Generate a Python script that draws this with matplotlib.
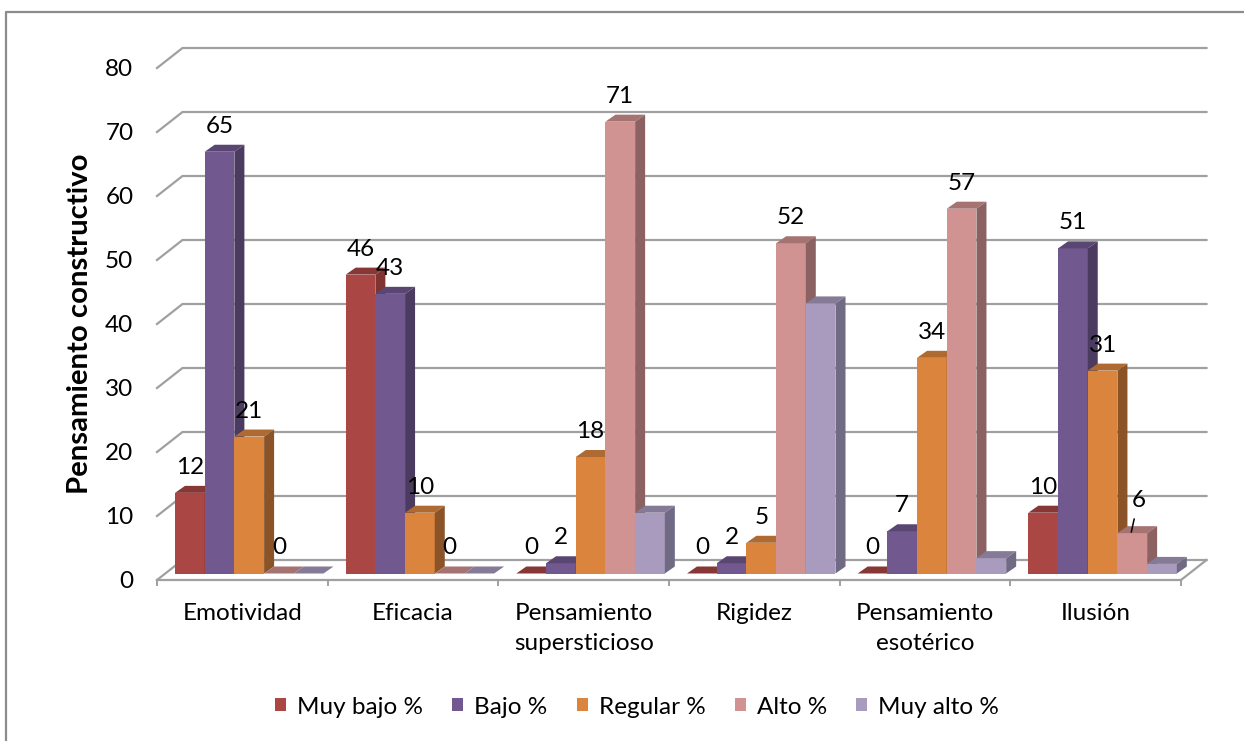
import matplotlib
matplotlib.use('Agg')
import matplotlib.pyplot as plt
from matplotlib.lines import Line2D
from matplotlib.patches import Patch, Polygon

W, H = 1244, 741
plt.rcParams['font.family'] = ['Lato', 'DejaVu Sans']

categories = ['Emotividad', 'Eficacia', 'Pensamiento\nsupersticioso', 'Rigidez',
              'Pensamiento\nesotérico', 'Ilusión']
series = ['Muy bajo %', 'Bajo %', 'Regular %', 'Alto %', 'Muy alto %']

muy_bajo = [12.6, 46.7, 0, 0, 0, 9.5]
bajo = [65.9, 43.7, 1.6, 1.6, 6.6, 50.8]
regular = [21.4, 9.5, 18.2, 4.8, 33.7, 31.7]
alto = [0, 0, 70.6, 51.6, 57.0, 6.3]
muy_alto = [0, 0, 9.5, 42.2, 2.4, 1.5]

lab_muy_bajo = ['12', '46', '0', '0', '0', '10']
lab_bajo = ['65', '43', '2', '2', '7', '51']
lab_regular = ['21', '10', '18', '5', '34', '31']
lab_alto = ['0', '0', '71', '52', '57', '6']

values = [muy_bajo, bajo, regular, alto, muy_alto]
labels = [lab_muy_bajo, lab_bajo, lab_regular, lab_alto, None]

front = ['#AA4643', '#71588F', '#DB843D', '#D19392', '#A99BBD']
top = ['#873735', '#5A4672', '#AF6A31', '#A57372', '#867B97']
side = ['#7F3432', '#4C3B61', '#8A5428', '#8B6261', '#716A84']

FS = 17.5

# pixel layout of the front plane
fig = plt.figure(figsize=(W / 100, H / 100), dpi=100)
ax = fig.add_axes([157 / W, 1 - 580 / H, 1024 / W, 512 / H])
ax.set_xlim(0, 6)
ax.set_ylim(0, 80)
ax.patch.set_alpha(0)

px_x = 6 / 1024
px_y = 80 / 512
grid_dx, grid_dy = 25.5 * px_x, 20 * px_y   # depth of the floor
bar_dx, bar_dy = 10 * px_x, 7 * px_y        # depth of one bar
bar_w = 29.7 * px_x
bar_off = 18 * px_x
base = 6.5 * px_y

GRID = '#A0A0A0'
for v in range(0, 90, 10):
    ax.plot([0, grid_dx, 6 + grid_dx], [v, v + grid_dy, v + grid_dy], color=GRID, lw=1.6,
            clip_on=False, zorder=1, solid_joinstyle='miter')
ax.plot([6, 6 + grid_dx], [0, grid_dy], color=GRID, lw=1.6, clip_on=False, zorder=1)

z = 3
for i in range(len(categories)):
    for j in range(len(series)):
        x = i + bar_off + j * bar_w
        h = values[j][i]
        y0, y1 = base, base + h
        ax.bar(x, h, bar_w, bottom=base, align='edge', color=front[j], zorder=z, clip_on=False,
               edgecolor='none')
        ax.add_patch(Polygon([(x, y1), (x + bar_dx, y1 + bar_dy), (x + bar_w + bar_dx, y1 + bar_dy),
                              (x + bar_w, y1)], closed=True, fc=top[j], ec='none', zorder=z,
                             clip_on=False))
        ax.add_patch(Polygon([(x + bar_w, y0), (x + bar_w + bar_dx, y0 + bar_dy),
                              (x + bar_w + bar_dx, y1 + bar_dy), (x + bar_w, y1)], closed=True,
                             fc=side[j], ec='none', zorder=z, clip_on=False))
        z += 1

# data labels sit above each bar
for i in range(len(categories)):
    for j in range(len(series)):
        if labels[j] is None:
            continue
        x = i + bar_off + j * bar_w + bar_w / 2
        y = base + values[j][i]
        txt = labels[j][i]
        if txt == '6':
            ax.annotate(txt, xy=(x - 1 * px_x, y + 1 * px_y), xytext=(x + 6 * px_x, y + 33 * px_y),
                        ha='center', va='center', fontsize=FS, zorder=60,
                        arrowprops=dict(arrowstyle='-', color='black', lw=1.1, shrinkA=4, shrinkB=0))
        else:
            ax.text(x, y + 25.5 * px_y, txt, ha='center', va='center', fontsize=FS, zorder=60)

ax.set_xticks(range(7))
ax.set_xticklabels([])
ax.tick_params(axis='x', which='major', length=4.5, width=1.4, color=GRID)
ax.set_xticks([i + 0.5 for i in range(6)], minor=True)
ax.set_xticklabels(categories, minor=True, fontsize=FS, linespacing=1.52)
ax.tick_params(axis='x', which='minor', length=0, pad=16.5)

ax.set_yticks(range(0, 90, 10))
ax.tick_params(axis='y', length=0, pad=17, labelsize=FS)
for s in ['top', 'right', 'left']:
    ax.spines[s].set_visible(False)
ax.spines['bottom'].set_color(GRID)
ax.spines['bottom'].set_linewidth(1.6)

fig.text(80 / W, 1 - 324 / H, 'Pensamiento constructivo', rotation=90, ha='center', va='center',
         fontsize=21.2, fontweight='bold')

handles = [Patch(fc=c, ec='none') for c in front]
fig.legend(handles, series, ncols=5, loc='center', bbox_to_anchor=(637 / W, 1 - 707 / H), frameon=False,
           fontsize=FS, handlelength=0.46, handleheight=0.46, handletextpad=0.45, columnspacing=1.2)

# outer chart frame, only top and left are inside the picture
fig.add_artist(Line2D([6 / W, 6 / W, 1], [0, 1 - 12 / H, 1 - 12 / H], color='#8C8C8C', lw=1.6))

fig.savefig('out.png', dpi=100, facecolor='white')
